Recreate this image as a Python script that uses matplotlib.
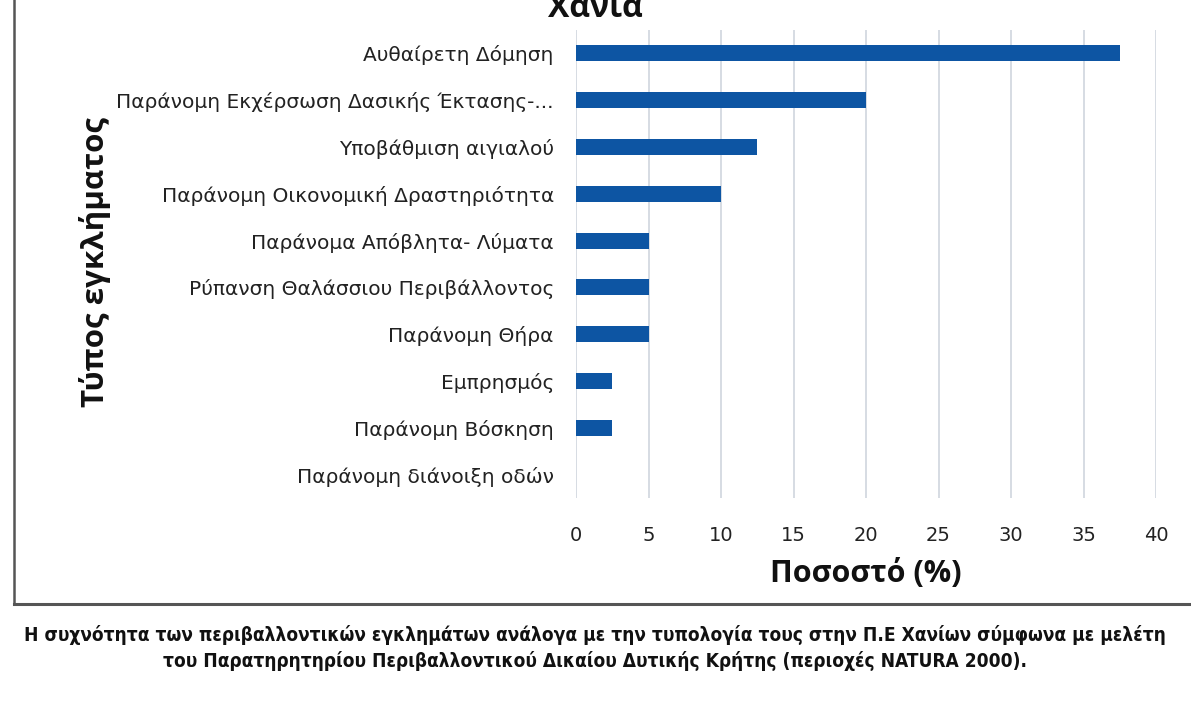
import matplotlib
matplotlib.use("Agg")
import matplotlib.pyplot as plt
from matplotlib.lines import Line2D

categories = [
    "Αυθαίρετη Δόμηση",
    "Παράνομη Εκχέρσωση Δασικής Έκτασης-...",
    "Υποβάθμιση αιγιαλού",
    "Παράνομη Οικονομική Δραστηριότητα",
    "Παράνομα Απόβλητα- Λύματα",
    "Ρύπανση Θαλάσσιου Περιβάλλοντος",
    "Παράνομη Θήρα",
    "Εμπρησμός",
    "Παράνομη Βόσκηση",
    "Παράνομη διάνοιξη οδών",
]
values = [37.5, 20, 12.5, 10, 5, 5, 5, 2.5, 2.5, 0]
xticks = [0, 5, 10, 15, 20, 25, 30, 35, 40]

title = "Χανιά"
xlabel = "Ποσοστό (%)"
ylabel = "Τύπος εγκλήματος"
caption = ("Η συχνότητα των περιβαλλοντικών εγκλημάτων ανάλογα με την τυπολογία τους στην Π.Ε Χανίων σύμφωνα με μελέτη\n"
           "του Παρατηρητηρίου Περιβαλλοντικού Δικαίου Δυτικής Κρήτης (περιοχές NATURA 2000).")

W, H = 1191, 708
fig = plt.figure(figsize=(W / 100, H / 100), dpi=100)
fig.patch.set_facecolor("white")

left, right, top, bottom = 576, 1156, 30, 498
ax = fig.add_axes([left / W, 1 - bottom / H, (right - left) / W, (bottom - top) / H])

ypos = list(range(len(categories)))
ax.barh(ypos, values, height=0.34, color="#0d55a3", zorder=3)
ax.set_ylim(len(categories) - 0.5, -0.5)
ax.set_xlim(0, 40)
ax.set_xticks(xticks)
ax.set_yticks(ypos)
ax.set_yticklabels(categories, fontsize=14.5, family=["DejaVu Sans"], color="#222222")
ax.set_xticklabels([str(t) for t in xticks], fontsize=14, family=["DejaVu Sans"], color="#222222")
ax.tick_params(axis="y", length=0, pad=16)
ax.tick_params(axis="x", length=0, pad=20)
ax.grid(axis="x", color="#d0d6de", linewidth=1.2, zorder=0)
for s in ax.spines.values():
    s.set_visible(False)

ax.set_xlabel(xlabel, fontsize=22, fontweight="bold", family=["Open Sans", "DejaVu Sans"], labelpad=10, color="#111111")
fig.text(95 / W, 1 - 262 / H, ylabel, rotation=90, fontsize=22.5, fontweight="bold",
         family=["Open Sans", "DejaVu Sans"], ha="center", va="center", color="#111111")

fig.text(595 / W, 1 - 17 / H, title, fontsize=23, fontweight="bold",
         family=["Open Sans", "DejaVu Sans"], ha="center", va="baseline", color="#111111")

# frame
fig.add_artist(Line2D([14 / W, 14 / W], [1 - 604 / H, 1.0], transform=fig.transFigure, color="#555555", lw=1.8))
fig.add_artist(Line2D([14 / W, 1.0], [1 - 604 / H, 1 - 604 / H], transform=fig.transFigure, color="#555555", lw=2.2))

fig.text(595 / W, 1 - 648 / H, caption, fontsize=13.7, fontweight="bold", fontstretch="condensed",
         family=["DejaVu Sans"], ha="center", va="center",
         linespacing=1.35, color="#111111")

fig.savefig("out.png", dpi=100)
